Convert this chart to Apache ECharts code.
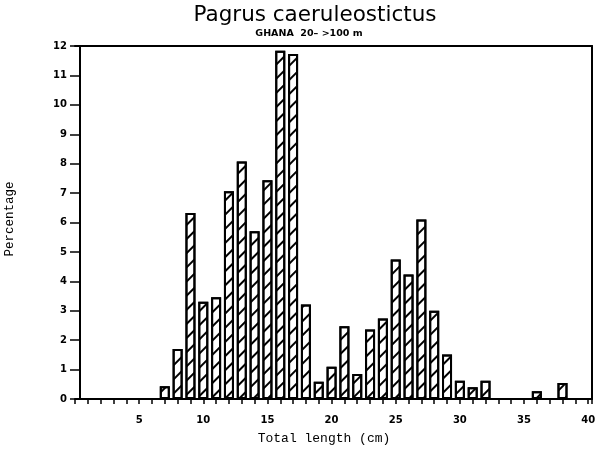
<!DOCTYPE html>
<html>
<head>
<meta charset="utf-8">
<script src="https://cdn.jsdelivr.net/npm/echarts@6/dist/echarts.min.js"></script>
<style>html,body{margin:0;padding:0;background:#fff;}#c{width:600px;height:449px;}</style>
</head>
<body>
<div id="c"></div>
<script>
const lengthsCm = [7, 8, 9, 10, 11, 12, 13, 14, 15, 16, 17, 18, 19, 20, 21, 22, 23, 24, 25, 26, 27, 28, 29, 30, 31, 32, 36, 38];
const percentages = [0.43, 1.70, 6.32, 3.31, 3.46, 7.06, 8.07, 5.70, 7.44, 11.84, 11.73, 3.21, 0.59, 1.10, 2.47, 0.85, 2.36, 2.74, 4.74, 4.23, 6.10, 3.00, 1.51, 0.62, 0.40, 0.62, 0.26, 0.54];
const xLabelTicks = [5, 10, 15, 20, 25, 30, 35, 40];
const titleText = 'Pagrus caeruleostictus';
const subtitleText = 'GHANA  20\u2013 >100 m';
const yName = 'Percentage';
const xName = 'Total length (cm)';

const chart = echarts.init(document.getElementById('c'), null, {renderer: 'canvas'});
const black = '#000';
const lineStyle = {color: black, width: 2};
const tickFont = {color: black, fontFamily: '"DejaVu Sans", "Liberation Sans", sans-serif', fontWeight: 'bold', fontSize: 10};

chart.setOption({
  animation: false,
  backgroundColor: '#fff',
  grid: {left: 75, right: 8, top: 46, bottom: 50, containLabel: false},
  xAxis: [{
    type: 'value', min: 0, max: 40.3, interval: 1,
    axisLine: {show: true, onZero: false, lineStyle: lineStyle},
    axisTick: {show: true, length: 5, lineStyle: {color: black, width: 1.5}},
    axisLabel: Object.assign({margin: 16, formatter: v => xLabelTicks.indexOf(v) >= 0 ? String(v) : ''}, tickFont),
    splitLine: {show: false}
  }, {
    type: 'value', position: 'top', min: 0, max: 40.3,
    axisLine: {show: true, onZero: false, lineStyle: lineStyle},
    axisTick: {show: false}, axisLabel: {show: false}, splitLine: {show: false}
  }],
  yAxis: [{
    type: 'value', min: 0, max: 12, interval: 1, offset: -5,
    axisLine: {show: true, onZero: false, lineStyle: lineStyle},
    axisTick: {show: true, length: 10, lineStyle: {color: black, width: 1.5}},
    axisLabel: Object.assign({margin: 13}, tickFont),
    splitLine: {show: false}
  }, {
    type: 'value', position: 'right', min: 0, max: 12,
    axisLine: {show: true, onZero: false, lineStyle: lineStyle},
    axisTick: {show: false}, axisLabel: {show: false}, splitLine: {show: false}
  }],
  series: [{
    type: 'bar', xAxisIndex: 0, yAxisIndex: 0,
    barWidth: 10,
    data: lengthsCm.map((x, i) => [x, percentages[i]]),
    itemStyle: {
      color: '#fff', borderColor: black, borderWidth: 2,
      decal: {symbol: 'rect', symbolSize: 1, color: black, dashArrayX: [1, 0], dashArrayY: [2, 8], rotation: -Math.PI / 4}
    }
  }],
  graphic: [
    {type: 'text', style: {x: 315, y: 15, text: titleText, font: '21.5px "DejaVu Sans", sans-serif', fill: black, align: 'center', verticalAlign: 'middle'}},
    {type: 'text', style: {x: 309, y: 34, text: subtitleText, font: 'bold 9.5px "DejaVu Sans", sans-serif', fill: black, align: 'center', verticalAlign: 'middle'}},
    {type: 'text', x: 10, y: 219, rotation: Math.PI / 2, style: {x: 0, y: 0, text: yName, font: '12.5px "Liberation Mono", monospace', fill: black, align: 'center', verticalAlign: 'middle'}},
    {type: 'text', style: {x: 324, y: 439, text: xName, font: '13px "Liberation Mono", monospace', fill: black, align: 'center', verticalAlign: 'middle'}}
  ]
});
</script>
</body>
</html>
